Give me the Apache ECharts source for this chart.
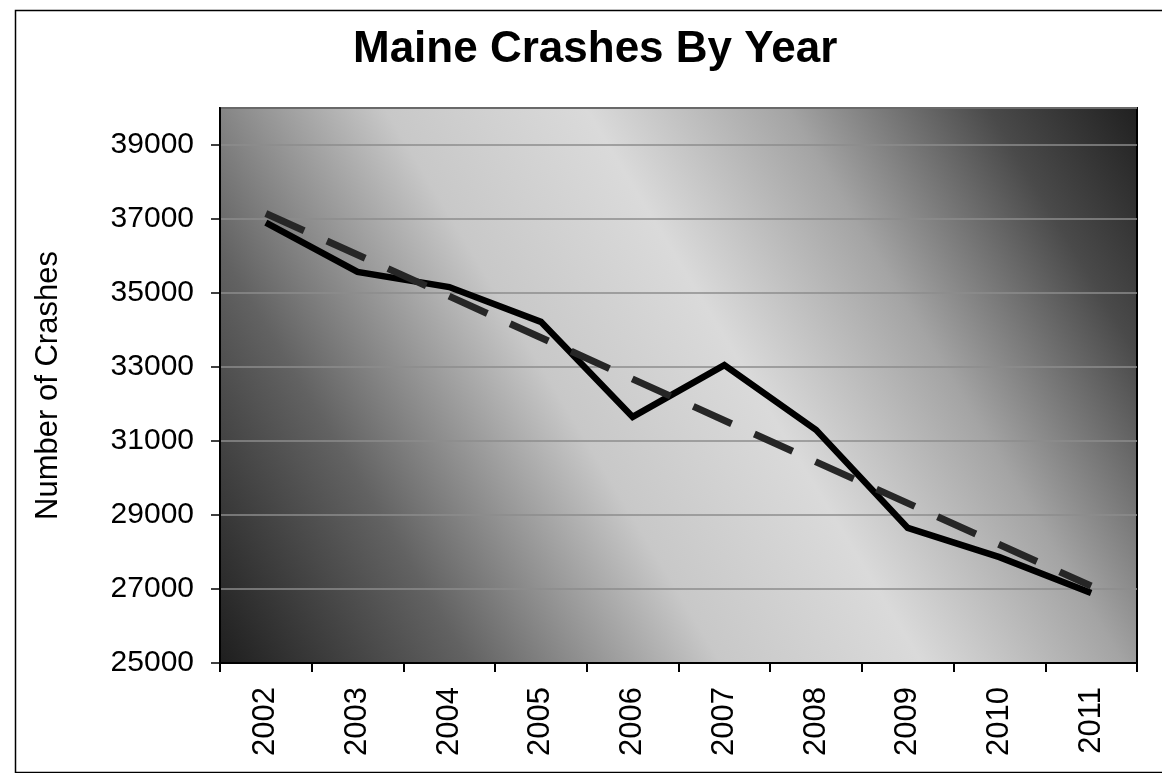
<!DOCTYPE html>
<html>
<head>
<meta charset="utf-8">
<title>Maine Crashes By Year</title>
<script src="https://cdn.jsdelivr.net/npm/echarts@6/dist/echarts.min.js"></script>
<style>
  html, body { margin: 0; padding: 0; background: #fff; }
  #main { width: 1162px; height: 773px; }
</style>
</head>
<body>
<div id="main"></div>
<script>
// data
var years = ['2002', '2003', '2004', '2005', '2006', '2007', '2008', '2009', '2010', '2011'];
var crashes = [36900, 35570, 35160, 34220, 31650, 33050, 31300, 28650, 27860, 26890];
// linear trend line, only the two ends
var trend = [37150, null, null, null, null, null, null, null, null, 27080];
var yTicks = [25000, 27000, 29000, 31000, 33000, 35000, 37000, 39000];

var font = 'Liberation Sans, Arial, sans-serif';

var myChart = echarts.init(document.getElementById('main'));
myChart.setOption({
  animation: false,
  title: {
    text: 'Maine Crashes By Year',
    left: 348,
    top: 23,
    textStyle: { fontFamily: font, fontSize: 44, fontWeight: 'bold', color: '#000' }
  },
  // outer frame of the chart (right and bottom edge are cut off)
  graphic: [{
    type: 'rect',
    left: 13,
    top: 8,
    shape: { width: 1200, height: 762 },
    style: { fill: 'none', stroke: '#000', lineWidth: 1.5 },
    z: 100
  }],
  grid: {
    left: 220,
    right: 25,
    top: 108,
    bottom: 110,
    show: true,
    borderColor: '#000',
    borderWidth: 2,
    // dark in the top right and bottom left corners, light in between
    backgroundColor: new echarts.graphic.LinearGradient(0, 1, 1, 0, [
      { offset: 0, color: '#1e1e1e' },
      { offset: 0.2, color: '#626262' },
      { offset: 0.4, color: '#c8c8c8' },
      { offset: 0.56, color: '#dadada' },
      { offset: 0.72, color: '#a4a4a4' },
      { offset: 0.88, color: '#4a4a4a' },
      { offset: 1, color: '#202020' }
    ])
  },
  xAxis: {
    type: 'category',
    data: years,
    boundaryGap: true,
    axisLine: { lineStyle: { color: '#000', width: 2 } },
    axisTick: { show: true, length: 9, lineStyle: { color: '#000', width: 2 } },
    axisLabel: {
      rotate: 90,
      margin: 24,
      interval: 0,
      color: '#000',
      fontFamily: font,
      fontSize: 31
    }
  },
  yAxis: {
    type: 'value',
    min: yTicks[0],
    max: 40000,
    interval: 2000,
    name: 'Number of Crashes',
    nameLocation: 'middle',
    nameRotate: 90,
    nameGap: 156,
    nameTextStyle: { fontFamily: font, fontSize: 31, color: '#000' },
    axisLine: { show: true, lineStyle: { color: '#000', width: 2 } },
    axisTick: { show: true, length: 9, lineStyle: { color: '#000', width: 1.5 } },
    axisLabel: {
      margin: 26,
      color: '#000',
      fontFamily: font,
      fontSize: 30,
      showMaxLabel: false,
      formatter: function (v) {
        return yTicks.indexOf(v) >= 0 ? String(v) : '';
      }
    },
    splitLine: { show: true, lineStyle: { color: '#8c8c8c', width: 1.5 } }
  },
  series: [{
    name: 'Crashes',
    type: 'line',
    data: crashes,
    symbol: 'none',
    lineStyle: { color: '#000', width: 6.5, join: 'miter' },
    z: 3
  }, {
    name: 'Trend',
    type: 'line',
    data: trend,
    connectNulls: true,
    symbol: 'none',
    lineStyle: { color: '#262626', width: 7, type: [42, 25], cap: 'butt' },
    z: 4
  }]
});
</script>
</body>
</html>
